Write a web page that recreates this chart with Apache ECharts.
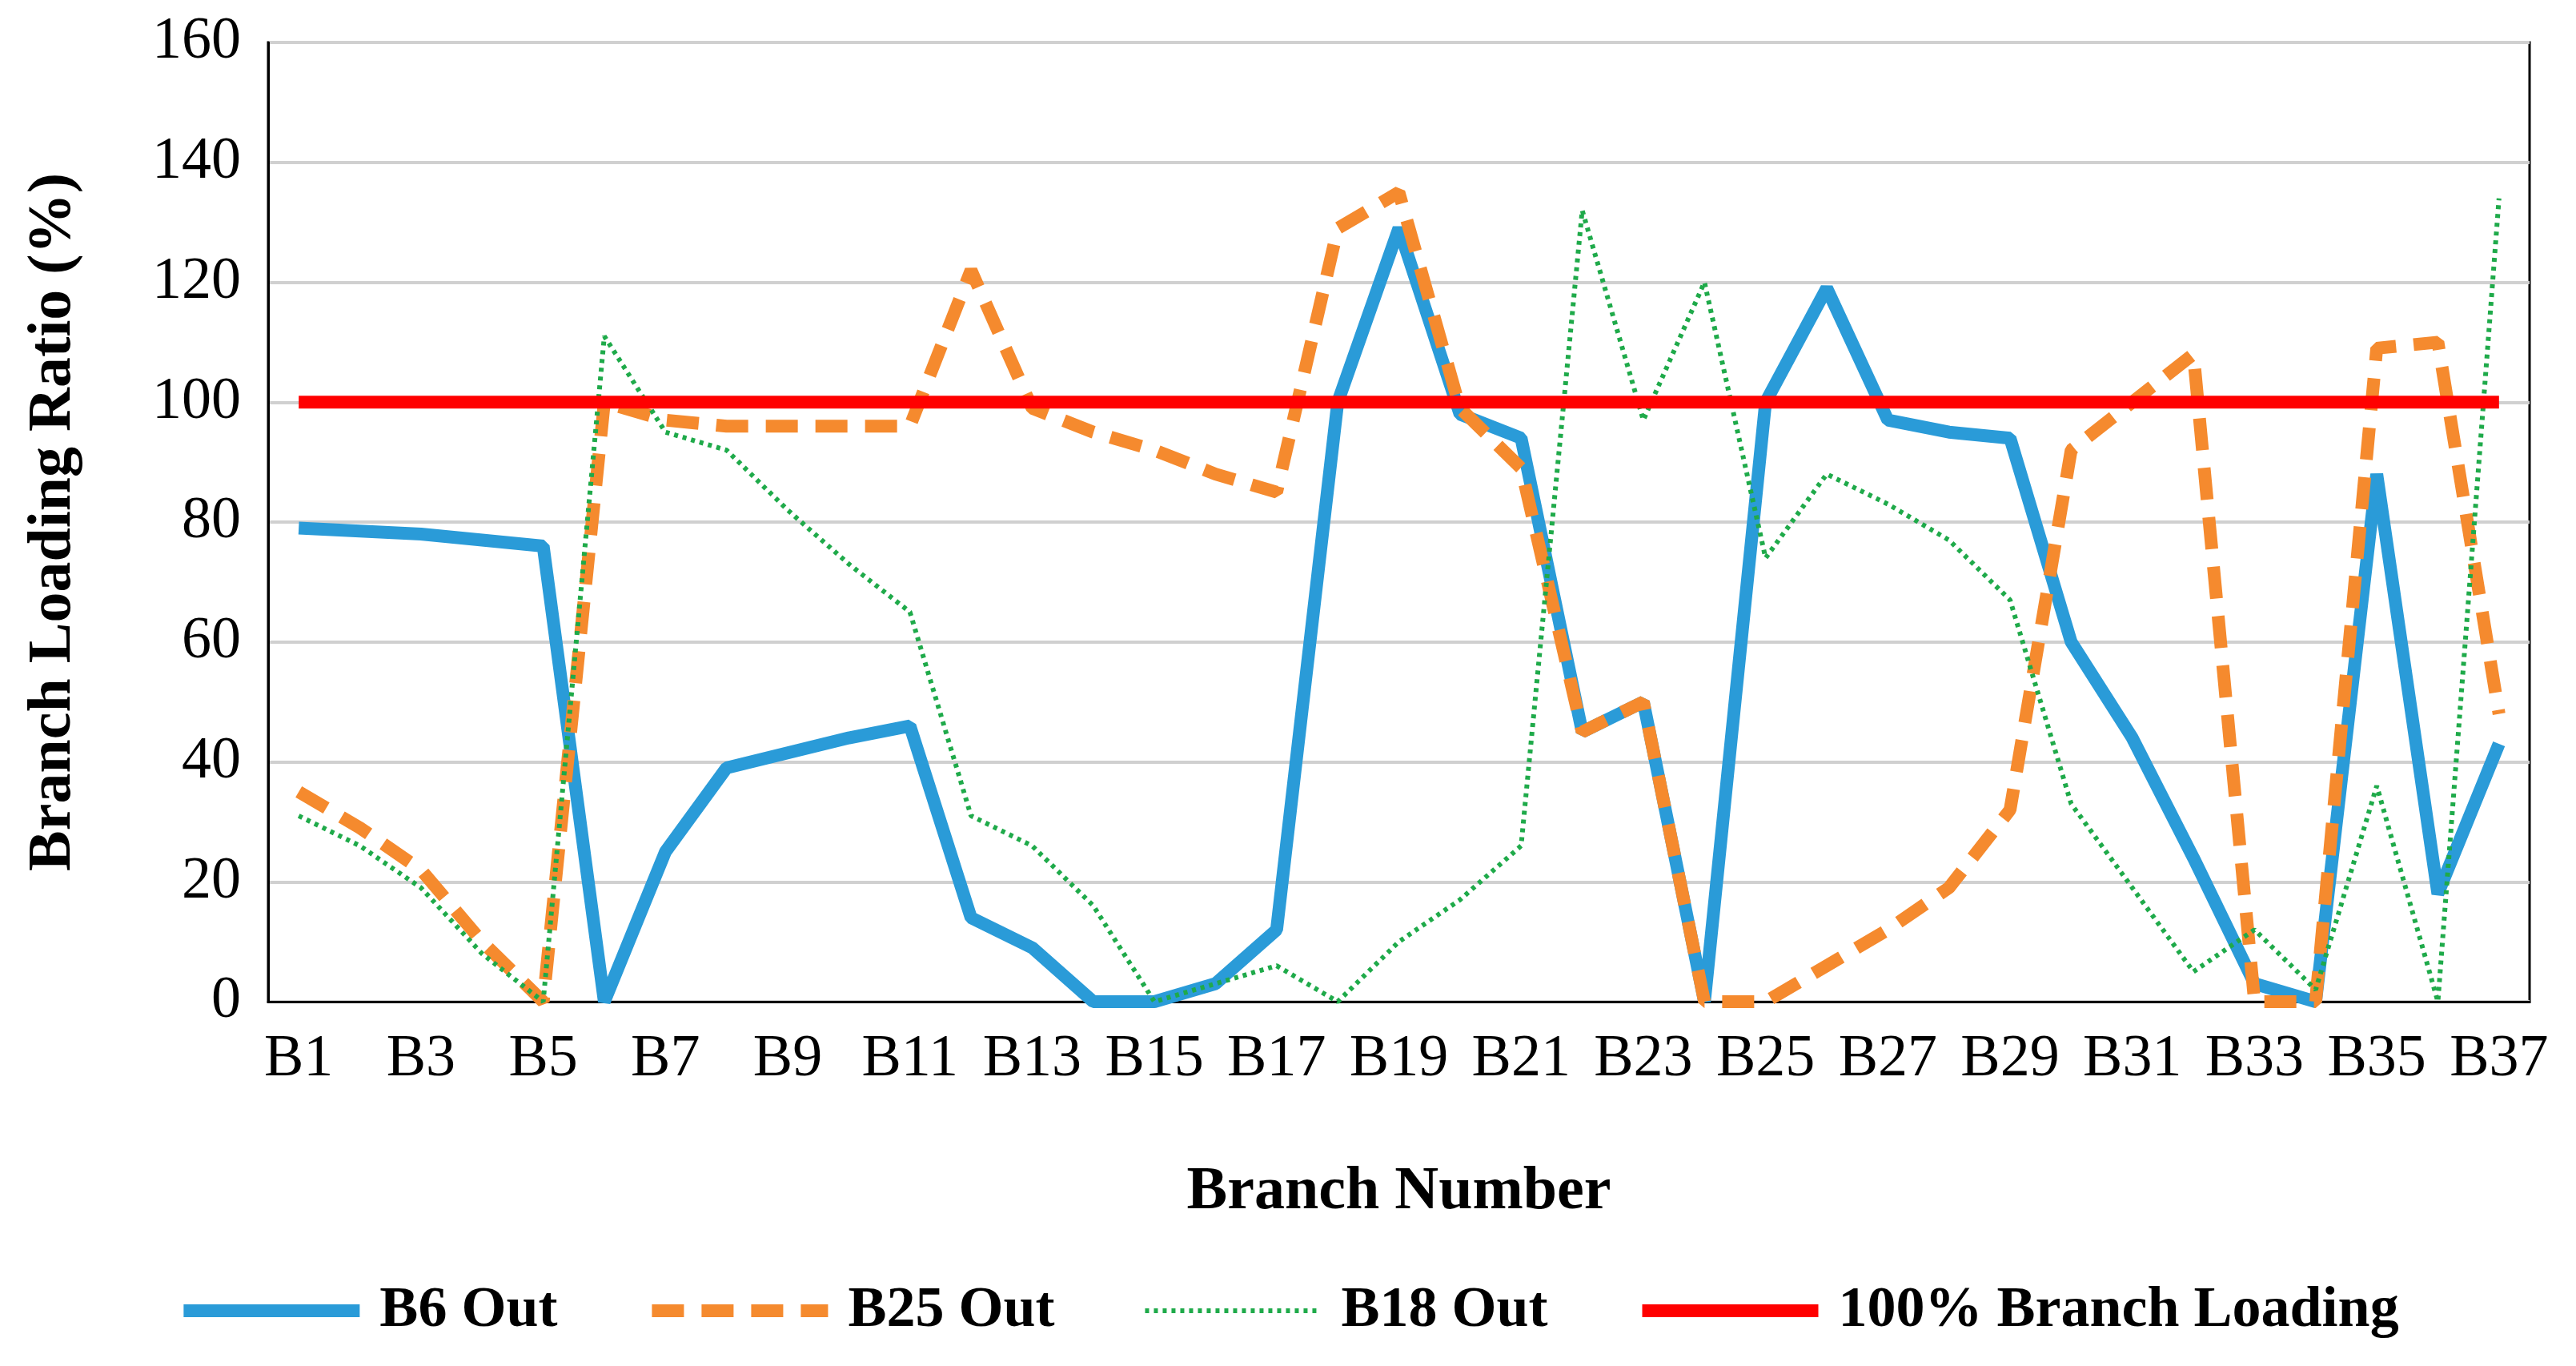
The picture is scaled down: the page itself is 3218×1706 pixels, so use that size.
<!DOCTYPE html>
<html>
<head>
<meta charset="utf-8">
<script src="https://cdn.jsdelivr.net/npm/echarts@6/dist/echarts.min.js"></script>
<style>html,body{margin:0;padding:0;background:#fff}#chart{width:3218px;height:1706px}</style>
</head>
<body>
<div id="chart"></div>
<script>
const branches = [];
for (let i = 1; i <= 37; i++) branches.push('B' + i);

const b6Out = [79, 78.5, 78, 77, 76, 0, 25, 39, 41.5, 44, 46, 14, 9, 0, 0, 3, 12, 100, 129, 98,
  94, 45, 50, 0, 100, 119, 97, 95, 94, 60, 44, 24, 3, 0, 88, 18, 43];
const b25Out = [35, 29, 22, 10, 0, 100, 97, 96, 96, 96, 96, 122, 99, 95, 92, 88, 85, 129, 135, 99,
  89, 45, 50, 0, 0, 6, 12, 19, 32, 92, 100, 108, 0, 0, 109, 110, 48];
const b18Out = [31, 26, 19, 8, 0, 111, 95, 92, 82, 73, 65, 31, 26, 16, 0, 3, 6, 0, 10, 17,
  26, 132, 97, 120, 74, 88, 83, 77, 67, 33, 19, 5, 12, 2, 36, 0, 134];
const limitLine = branches.map(() => 100);

const font = '"Liberation Serif", "Times New Roman", serif';
const chart = echarts.init(document.getElementById('chart'));
chart.setOption({
  animation: false,
  textStyle: { fontFamily: font },
  grid: { left: 335, right: 58, top: 53, bottom: 455, show: true, borderColor: '#000', borderWidth: 3 },
  legend: {
    bottom: 28, itemWidth: 220, itemHeight: 24, itemGap: 110,
    itemStyle: { opacity: 0 },
    textStyle: { fontFamily: font, fontWeight: 'bold', fontSize: 72, color: '#000', padding: [0, 0, 0, 20] },
    data: [
      { name: 'B6 Out', lineStyle: { width: 16 } },
      { name: 'B25 Out', lineStyle: { width: 16, type: [40, 22] } },
      { name: 'B18 Out', lineStyle: { width: 6, type: [5, 6] } },
      { name: '100% Branch Loading', lineStyle: { width: 16 } }
    ]
  },
  xAxis: {
    type: 'category', data: branches, boundaryGap: true,
    name: 'Branch Number', nameLocation: 'middle', nameGap: 200,
    nameTextStyle: { fontFamily: font, fontWeight: 'bold', fontSize: 76, color: '#000' },
    axisLine: { lineStyle: { color: '#000', width: 3 } },
    axisTick: { show: false },
    axisLabel: { interval: 1, fontSize: 74, color: '#000', margin: 36, fontFamily: font }
  },
  yAxis: {
    type: 'value', min: 0, max: 160, interval: 20,
    name: 'Branch Loading Ratio (%)', nameLocation: 'middle', nameGap: 230,
    nameTextStyle: { fontFamily: font, fontWeight: 'bold', fontSize: 76, color: '#000' },
    axisLine: { show: true, lineStyle: { color: '#000', width: 3 } },
    axisLabel: { fontSize: 74, color: '#000', margin: 34, fontFamily: font },
    splitLine: { lineStyle: { color: '#d0d0d0', width: 4 } }
  },
  series: [
    { name: 'B6 Out', type: 'line', data: b6Out, symbol: 'none', color: '#2A9BD8',
      lineStyle: { width: 16, color: '#2A9BD8' } },
    { name: 'B25 Out', type: 'line', data: b25Out, symbol: 'none', color: '#F58A2E',
      lineStyle: { width: 16, color: '#F58A2E', type: [40, 22] } },
    { name: 'B18 Out', type: 'line', data: b18Out, symbol: 'none', color: '#1FAA4A',
      lineStyle: { width: 6, color: '#1FAA4A', type: [5, 6] } },
    { name: '100% Branch Loading', type: 'line', data: limitLine, symbol: 'none', color: '#FF0000',
      lineStyle: { width: 16, color: '#FF0000' } }
  ]
});
</script>
</body>
</html>
